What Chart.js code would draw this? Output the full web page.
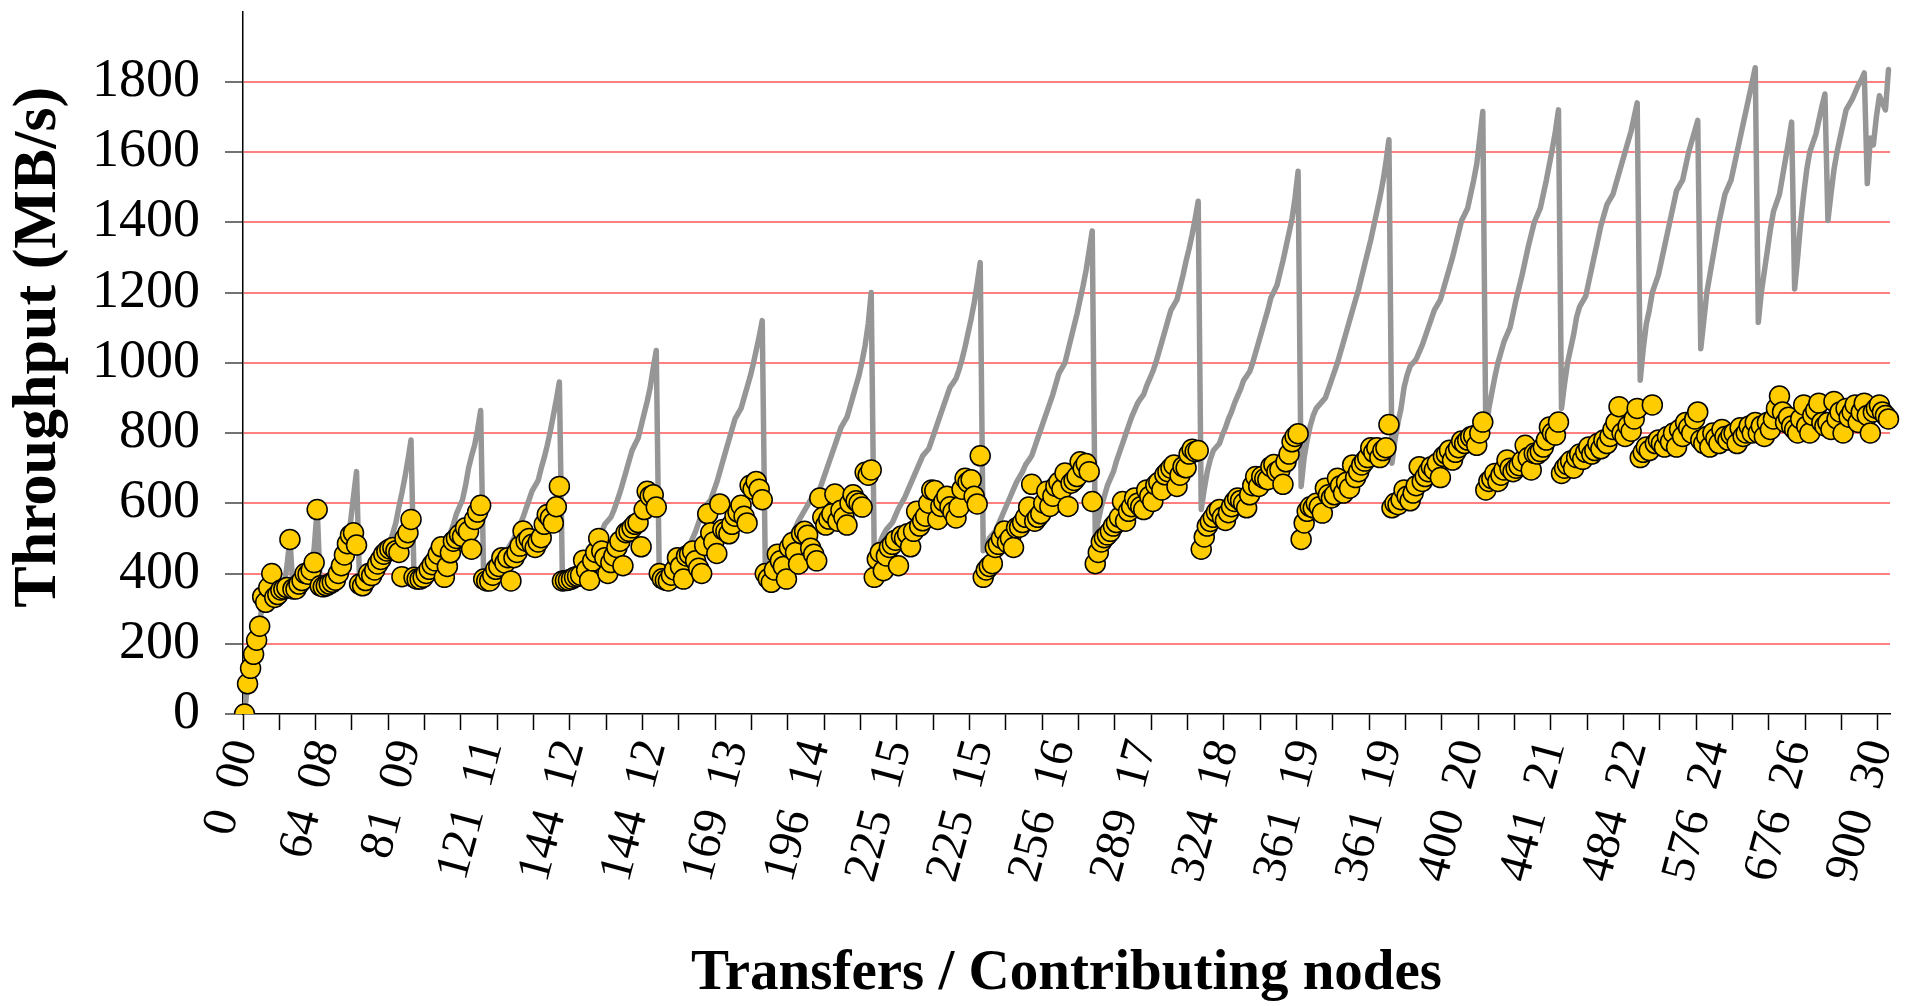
<!DOCTYPE html>
<html>
<head>
<meta charset="utf-8">
<script src="https://cdn.jsdelivr.net/npm/chart.js@4.4.0/dist/chart.umd.min.js"></script>
<style>
    body { margin: 0; background: #fff; }
    #wrap { width: 1910px; height: 1006px; }
</style>
</head>
<body>
<div id="wrap"><canvas id="myChart" width="1910" height="1006"></canvas></div>
<script>
// one label every 27 runs (two no-break spaces between the numbers)
let tickLabels = ['0\u00a0\u00a000', '64\u00a0\u00a008', '81\u00a0\u00a009', '121\u00a0\u00a011', '144\u00a0\u00a012',
    '144\u00a0\u00a012', '169\u00a0\u00a013', '196\u00a0\u00a014', '225\u00a0\u00a015', '225\u00a0\u00a015',
    '256\u00a0\u00a016', '289\u00a0\u00a017', '324\u00a0\u00a018', '361\u00a0\u00a019', '361\u00a0\u00a019',
    '400\u00a0\u00a020', '441\u00a0\u00a021', '484\u00a0\u00a022', '576\u00a0\u00a024', '676\u00a0\u00a026',
    '900\u00a0\u00a030']

// measured throughput (yellow markers), one line per saw tooth
let throughput = [
    0, 86, 130, 170, 210, 250, 334, 318, 360, 400, 332, 340, 353, 356, 360, 497,
    356, 356, 370, 380, 400, 398, 410, 431, 582,
    365, 362, 365, 370, 375, 381, 400, 422, 453, 485, 509, 516, 481,
    370, 365, 380, 400, 394, 410, 427, 440, 455, 464, 470, 474, 465, 460, 391, 500, 516, 554,
    389, 384, 384, 389, 400, 412, 425, 436, 455, 476, 389, 420, 459, 492, 500, 511, 505, 530, 520, 469, 554, 575, 594,
    384, 379, 379, 395, 412, 420, 445, 430, 445, 379, 445, 460, 478, 521, 492, 500, 483, 474, 490, 502, 540, 568, 558, 544, 590, 648,
    379, 380, 381, 384, 389, 392, 395, 438, 410, 381, 436, 460, 500, 464, 445, 400, 431, 450, 474, 492, 422, 516, 520, 530, 540, 545, 476, 582, 634, 620, 624, 589,
    400, 385, 381, 379, 395, 410, 445, 420, 384, 450, 455, 464, 436, 415, 400, 480, 570, 516, 490, 457, 598, 525, 520, 513, 540, 563, 575, 594, 563, 544, 651, 640, 662, 640, 610,
    400, 385, 375, 410, 455, 436, 420, 384, 474, 488, 460, 427, 513, 520, 509, 472, 455, 436, 615, 560, 538, 555, 570, 626, 549, 580, 560, 538, 600, 624, 607, 600, 589, 688, 680, 695,
    389, 441, 460, 408, 450, 474, 483, 495, 422, 507, 500, 513, 476, 520, 577, 535, 550, 563, 600, 638, 636, 554, 591, 605, 620, 590, 575, 558, 589, 640, 671, 660, 667, 620, 598, 735,
    389, 410, 420, 428, 474, 483, 500, 521, 488, 500, 474, 530, 532, 545, 560, 589, 654, 549, 560, 570, 600, 634, 591, 620, 648, 660, 640, 686, 591, 657, 665, 676, 718, 700, 713, 690, 605,
    428, 460, 490, 502, 510, 520, 535, 545, 560, 605, 549, 577, 590, 615, 600, 590, 582, 638, 620, 605, 652, 660, 638, 681, 690, 700, 709, 648, 680, 704, 701, 740, 754, 747, 750,
    469, 504, 535, 548, 560, 575, 582, 560, 551, 573, 590, 605, 615, 608, 600, 587, 624, 650, 676, 648, 676, 670, 667, 704, 710, 690, 695, 654, 718, 740, 775, 790, 798,
    497, 544, 577, 590, 587, 600, 590, 572, 643, 624, 615, 624, 671, 650, 629, 660, 643, 709, 673, 690, 709, 720, 730, 758, 745, 758, 730, 750, 758, 824,
    587, 600, 596, 610, 638, 620, 607, 629, 650, 704, 662, 676, 690, 704, 695, 714, 673, 733, 740, 751, 723, 745, 758, 777, 770, 780, 789, 792, 765, 800, 831,
    638, 662, 670, 685, 662, 680, 695, 723, 700, 690, 700, 707, 720, 765, 730, 695, 742, 740, 747, 760, 780, 817, 800, 794, 831,
    685, 700, 710, 720, 700, 730, 740, 725, 745, 760, 740, 750, 770, 755, 780, 770, 790, 810, 830, 875, 800, 790, 820, 805, 840, 870,
    730, 745, 760, 750, 880, 770, 780, 770, 760, 790, 775, 800, 760, 810, 790, 830, 815, 800, 840, 860,
    780, 770, 790, 760, 800, 785, 770, 810, 790, 780, 795, 800, 770, 815, 790, 800, 820, 800, 830,
    800, 820, 790, 830, 810, 840, 870, 905, 860, 830, 845, 820,
    810, 800, 840, 880, 820, 800, 850, 865, 885, 830, 820,
    830, 810, 890, 840, 860, 800, 870, 845, 860, 880, 830, 860, 885,
    850, 800, 860, 870, 880, 860, 850, 840
]

// grey saw tooth line
let greyLine = [
    0, 86, 130, 170, 210, 250, 334, 318, 360, 400, 340, 345, 355, 360, 420, 500,
    356, 360, 370, 380, 400, 410, 430, 470, 585,
    370, 370, 372, 375, 380, 395, 405, 420, 455, 495, 545, 620, 690,
    372, 368, 385, 400, 405, 420, 432, 443, 455, 470, 490, 515, 545, 590, 630, 675, 725, 780,
    385, 384, 385, 390, 400, 415, 425, 435, 455, 470, 480, 495, 515, 540, 570, 590, 610, 650, 700, 735, 765, 810, 864,
    385, 385, 390, 400, 415, 428, 440, 455, 470, 485, 500, 520, 540, 560, 585, 610, 635, 650, 665, 700, 730, 765, 805, 850, 895, 945,
    385, 385, 388, 392, 398, 401, 405, 415, 428, 440, 455, 475, 500, 520, 540, 550, 560, 580, 605, 630, 660, 690, 720, 750, 768, 785, 820, 855, 890, 930, 985, 1035,
    390, 385, 385, 390, 400, 407, 415, 430, 445, 460, 480, 500, 520, 545, 570, 590, 600, 610, 635, 660, 690, 720, 750, 780, 810, 840, 855, 870, 900, 930, 960, 995, 1035, 1075, 1120,
    430, 415, 425, 440, 448, 455, 470, 485, 500, 515, 530, 550, 565, 580, 595, 610, 618, 625, 640, 665, 690, 715, 740, 765, 790, 815, 830, 845, 875, 905, 935, 965, 1005, 1050, 1110, 1200,
    455, 470, 490, 510, 525, 535, 545, 565, 585, 600, 615, 635, 655, 675, 695, 715, 735, 745, 755, 780, 805, 830, 855, 880, 905, 930, 942, 955, 980, 1010, 1045, 1085, 1125, 1170, 1225, 1285,
    465, 480, 500, 510, 520, 540, 560, 580, 600, 620, 640, 660, 675, 690, 710, 722, 735, 760, 785, 810, 835, 860, 885, 910, 940, 970, 985, 1000, 1035, 1070, 1105, 1140, 1180, 1220, 1265, 1320, 1375,
    510, 550, 590, 620, 650, 670, 690, 720, 745, 770, 795, 820, 845, 865, 885, 898, 910, 935, 955, 975, 1000, 1030, 1060, 1090, 1120, 1150, 1165, 1180, 1215, 1250, 1290, 1325, 1365, 1410, 1460,
    582, 640, 690, 725, 750, 760, 770, 795, 815, 840, 860, 885, 905, 925, 950, 962, 975, 1000, 1030, 1060, 1090, 1120, 1150, 1185, 1202, 1220, 1255, 1290, 1330, 1370, 1410, 1470, 1545,
    648, 730, 780, 820, 850, 870, 880, 890, 900, 925, 950, 975, 1000, 1030, 1060, 1090, 1120, 1150, 1180, 1210, 1245, 1280, 1315, 1350, 1390, 1430, 1470, 1515, 1570, 1635,
    714, 780, 830, 870, 930, 965, 990, 1000, 1010, 1030, 1050, 1075, 1100, 1125, 1150, 1165, 1180, 1210, 1240, 1270, 1300, 1335, 1370, 1405, 1422, 1440, 1480, 1520, 1565, 1640, 1715,
    800, 870, 915, 960, 1000, 1030, 1060, 1080, 1100, 1140, 1180, 1215, 1250, 1290, 1330, 1365, 1400, 1420, 1440, 1480, 1520, 1565, 1610, 1660, 1720,
    870, 940, 1000, 1040, 1080, 1130, 1160, 1175, 1190, 1230, 1270, 1310, 1350, 1390, 1420, 1450, 1465, 1480, 1510, 1540, 1570, 1600, 1630, 1660, 1700, 1740,
    950, 1040, 1110, 1150, 1200, 1225, 1250, 1290, 1330, 1370, 1410, 1450, 1490, 1505, 1520, 1560, 1600, 1630, 1660, 1690,
    1040, 1120, 1200, 1250, 1300, 1350, 1400, 1440, 1480, 1500, 1520, 1560, 1600, 1640, 1680, 1720, 1760, 1800, 1840,
    1115, 1200, 1260, 1320, 1380, 1430, 1455, 1480, 1530, 1580, 1630, 1685,
    1210, 1300, 1400, 1480, 1550, 1600, 1625, 1650, 1690, 1730, 1765,
    1405, 1480, 1550, 1600, 1640, 1680, 1720, 1735, 1750, 1770, 1790, 1805, 1825,
    1510, 1640, 1620, 1700, 1760, 1740, 1720, 1835
]

let xLabels = throughput.map(function (v, i) {
    return i % 27 === 0 ? tickLabels[i / 27] : ''
})

let clear = 'rgba(0,0,0,0)'

Chart.defaults.font.family = "'Liberation Serif', 'Times New Roman', serif"
Chart.defaults.color = '#000'

let currChart = document.getElementById('myChart').getContext('2d')
let lineChart = new Chart(currChart, {
    type: 'line',
    data: {
        labels: xLabels,
        datasets: [{
            data: throughput,
            showLine: false,
            pointRadius: 10,
            pointHoverRadius: 10,
            pointBackgroundColor: '#FFCC00',
            pointBorderColor: '#000',
            pointBorderWidth: 1.5,
        }, {
            data: greyLine,
            borderColor: '#969696',
            borderWidth: 5.5,
            borderJoinStyle: 'round',
            borderCapStyle: 'round',
            pointRadius: 0,
            pointHoverRadius: 0,
        }]
    },
    options: {
        responsive: false,
        animation: false,
        events: [],
        layout: { padding: { top: 6, right: 20, left: 0, bottom: 0 } },
        plugins: { legend: { display: false }, tooltip: { enabled: false } },
        scales: {
            x: {
                offset: true,
                grid: {
                    drawOnChartArea: false,
                    offset: true,
                    tickLength: 16,
                    tickWidth: 1.5,
                    tickColor: (c) => c.index % 12 === 0 ? '#000' : clear,
                },
                border: { color: '#000', width: 1.5 },
                ticks: {
                    autoSkip: false,
                    minRotation: 75,
                    maxRotation: 75,
                    padding: 4,
                    font: { size: 48 },
                },
                title: {
                    display: true,
                    text: 'Transfers / Contributing nodes',
                    font: { size: 57, weight: 'bold', lineHeight: 1.1 },
                    padding: 0,
                },
                afterFit: (s) => { s.height = 292; s.paddingLeft = 0; s.paddingRight = 0 },
            },
            y: {
                min: 0,
                max: 2000,
                grid: {
                    color: (c) => (c.tick && c.tick.value > 0 && c.tick.value < 2000) ? '#FF8080' : clear,
                    lineWidth: 2,
                    tickLength: 18,
                    tickWidth: 1.5,
                    tickColor: (c) => (c.tick && c.tick.value < 2000) ? '#444' : clear,
                },
                border: { color: '#000', width: 1.5 },
                ticks: {
                    stepSize: 200,
                    padding: 25,
                    font: { size: 54 },
                    callback: (v) => v === 2000 ? '' : v,
                },
                title: {
                    display: true,
                    text: '\u00a0\u00a0Throughput (MB/s)',
                    font: { size: 62, weight: 'bold', lineHeight: 1.1 },
                    padding: { top: 5, bottom: 0 },
                },
                afterFit: (s) => { s.width = 243; s.paddingTop = 0; s.paddingBottom = 0 },
            },
        },
    },
})
</script>
</body>
</html>
